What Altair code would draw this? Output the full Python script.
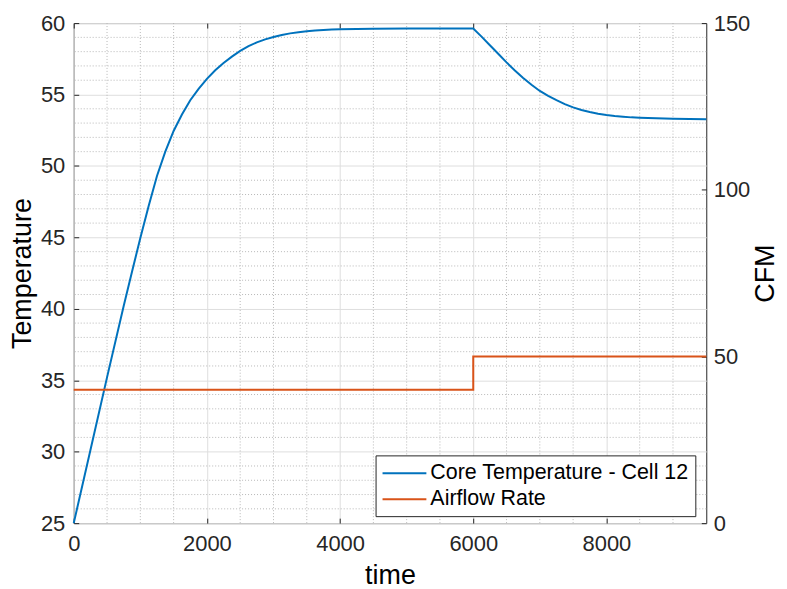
import altair as alt
import pandas as pd

# ---- data ----
time = [0, 250, 500, 750, 875, 1000, 1125, 1250, 1375, 1500, 1625, 1750, 1875,
        2000, 2125, 2250, 2375, 2500, 2625, 2750, 2875, 3000, 3125, 3250, 3375,
        3500, 3625, 3750, 3875, 4000, 4250, 4500, 5000, 5500, 6000, 6125, 6250,
        6375, 6500, 6625, 6750, 6875, 7000, 7125, 7250, 7375, 7500, 7625, 7750,
        7875, 8000, 8125, 8250, 8375, 8500, 8750, 9000, 9250, 9500]
core_temp = [25.0, 30.1, 35.2, 40.2, 42.6, 44.95, 47.2, 49.3, 51.0, 52.45, 53.6,
             54.6, 55.4, 56.1, 56.7, 57.2, 57.65, 58.05, 58.38, 58.65, 58.86,
             59.03, 59.17, 59.28, 59.36, 59.43, 59.48, 59.52, 59.55, 59.57, 59.59,
             59.6, 59.62, 59.62, 59.62, 59.05, 58.45, 57.85, 57.25, 56.68, 56.15,
             55.68, 55.25, 54.9, 54.6, 54.33, 54.1, 53.92, 53.78, 53.66, 53.57,
             53.5, 53.45, 53.4, 53.37, 53.33, 53.3, 53.28, 53.26]

air_time = [0, 6000, 9500]
air_cfm = [40, 50, 50]

series_names = ["Core Temperature - Cell 12", "Airflow Rate"]
series_colors = ["#0072BD", "#D95319"]

x_major = [0, 2000, 4000, 6000, 8000]
x_minor = [500, 1000, 1500, 2500, 3000, 3500, 4500, 5000, 5500, 6500, 7000, 7500, 8500, 9000]
y_major = [25, 30, 35, 40, 45, 50, 55, 60]
y_minor = [26, 27, 28, 29, 31, 32, 33, 34, 36, 37, 38, 39, 41, 42, 43, 44,
           46, 47, 48, 49, 51, 52, 53, 54, 56, 57, 58, 59]
cfm_ticks = [0, 50, 100, 150]

FONT = "Liberation Sans"

temp_df = pd.DataFrame({"time": time, "value": core_temp, "series": series_names[0]})
air_df = pd.DataFrame({"time": air_time, "value": air_cfm, "series": series_names[1]})

x_scale = alt.Scale(domain=[0, 9500], nice=False, zero=False)
t_scale = alt.Scale(domain=[25, 60], nice=False, zero=False)
c_scale = alt.Scale(domain=[0, 150], nice=False)

x_axis = alt.Axis(values=x_major, grid=True, title="time", offset=-5, ticks=True,
                  tickSize=5, domain=False, labelPadding=10, titlePadding=9,
                  format="d", labelFlush=False)
x_top_axis = alt.Axis(values=x_major, grid=False, title=None, orient="top", offset=-5,
                      ticks=True, tickSize=5, domain=False, labels=False)

color = alt.Color(
    "series:N",
    scale=alt.Scale(domain=series_names, range=series_colors),
    legend=alt.Legend(
        title=None, orient="none", legendX=303, legendY=434,
        strokeColor="#262626", fillColor="white", padding=6,
        symbolType="M-2,0L2,0", symbolStrokeWidth=2, symbolSize=484,
        symbolOffset=11, labelOffset=14,
        labelFontSize=21.5, labelFont=FONT, labelColor="#000000",
        rowPadding=3, labelLimit=400,
    ),
)

xminor = alt.Chart(pd.DataFrame({"x": x_minor})).mark_rule(
    color="#b8b8b8", strokeDash=[1, 2], strokeWidth=1
).encode(x=alt.X("x:Q", scale=x_scale, axis=x_axis))

yminor = alt.Chart(pd.DataFrame({"y": y_minor})).mark_rule(
    color="#b8b8b8", strokeDash=[1, 2], strokeWidth=1
).encode(y=alt.Y("y:Q", scale=t_scale, axis=None))

temp_line = alt.Chart(temp_df).mark_line(strokeWidth=2).encode(
    x=alt.X("time:Q", scale=x_scale, axis=x_top_axis),
    y=alt.Y("value:Q", scale=t_scale,
            axis=alt.Axis(values=y_major, grid=True, orient="left", title="Temperature",
                          offset=-5, ticks=True, tickSize=5, domain=False,
                          labelPadding=9, titlePadding=4)),
    color=color,
)

air_line = alt.Chart(air_df).mark_line(strokeWidth=2, interpolate="step-after").encode(
    x=alt.X("time:Q", scale=x_scale, axis=None),
    y=alt.Y("value:Q", scale=c_scale,
            axis=alt.Axis(values=cfm_ticks, grid=False, orient="right", title="CFM",
                          offset=-5, ticks=True, tickSize=5, domain=False,
                          labelPadding=7, titlePadding=3, titleAngle=270,
                          titleBaseline="top")),
    color=color,
)

chart = alt.layer(xminor, yminor, temp_line, air_line).resolve_scale(
    x="independent", y="independent"
).properties(
    width=635, height=502, background="white",
    padding={"left": 0, "top": 3, "right": 0, "bottom": 0}
).configure_axis(
    labelFont=FONT, titleFont=FONT, labelFontSize=22, titleFontSize=27,
    labelColor="#262626", titleColor="#000000", titleFontWeight="normal",
    gridColor="#dedede", gridWidth=1, tickColor="#262626", tickWidth=1,
).configure_view(
    stroke="#262626", strokeWidth=1
)

chart.save("out.html", embed_options={"renderer": "svg", "actions": False})
